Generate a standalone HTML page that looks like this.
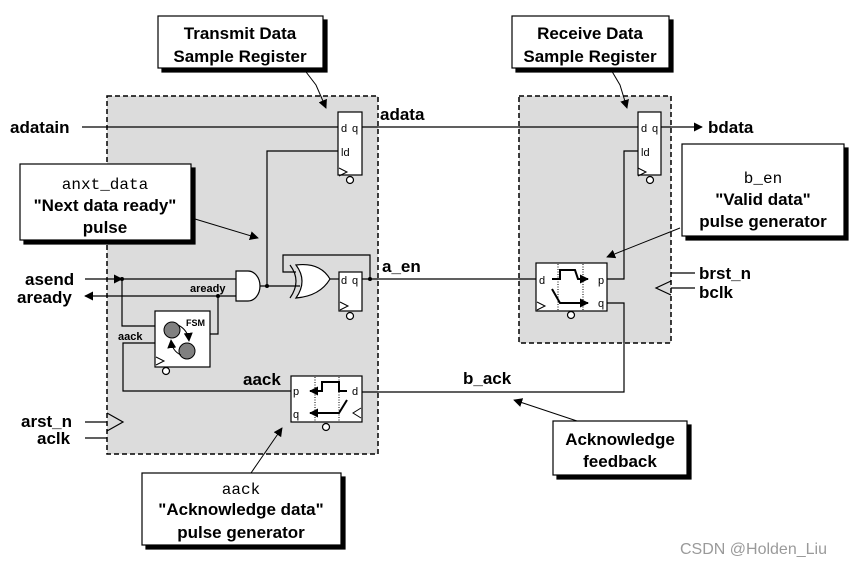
<!DOCTYPE html>
<html><head><meta charset="utf-8"><style>
html,body{margin:0;padding:0;background:#fff}
svg{display:block}
text{font-family:"Liberation Sans",Arial,sans-serif;font-weight:bold;fill:#000}
.m{font-family:"Liberation Mono",monospace;font-weight:normal}
.s{font-weight:normal;font-size:11px}
</style></head><body>
<svg width="867" height="567" viewBox="0 0 867 567" xmlns="http://www.w3.org/2000/svg">
<defs>
<marker id="ar" viewBox="0 0 10 10" refX="9" refY="5" markerWidth="9" markerHeight="9" orient="auto" markerUnits="userSpaceOnUse"><path d="M0,0 L10,5 L0,10z" fill="#000"/></marker>
</defs>
<rect x="107" y="96" width="271" height="358" fill="#dcdcdc" stroke="#000" stroke-width="1.5" stroke-dasharray="5,3"/>
<rect x="519" y="96" width="152" height="247" fill="#dcdcdc" stroke="#000" stroke-width="1.5" stroke-dasharray="5,3"/>

<g stroke="#000" stroke-width="1.2" fill="none">
<line x1="82" y1="127" x2="338" y2="127"/>
<line x1="362" y1="127" x2="638" y2="127"/>
<line x1="661" y1="127" x2="702" y2="127" marker-end="url(#ar)"/>
<polyline points="338,151 267,151 267,286"/>
<line x1="85" y1="279" x2="122" y2="279" marker-end="url(#ar)"/>
<line x1="122" y1="279" x2="236" y2="279"/>
<line x1="236" y1="296" x2="85" y2="296" marker-end="url(#ar)"/>
<polyline points="218,296 218,334 210,334"/>
<polyline points="122,279 122,326 155,326"/>
<polyline points="155,343 123,343 123,391 291,391"/>
<line x1="260" y1="286" x2="300" y2="286"/>
<line x1="330" y1="279" x2="339" y2="279"/>
<polyline points="370,279 370,255 283,255 283,272 296,272"/>
<line x1="362" y1="279" x2="536" y2="279"/>
<polyline points="607,279 624,279 624,151 638,151"/>
<polyline points="607,303 624,303 624,392 362,392"/>
<line x1="85" y1="422" x2="107" y2="422"/>
<line x1="85" y1="438" x2="107" y2="438"/>
<polyline points="107,413 123,422 107,431"/>
<line x1="671" y1="273" x2="695" y2="273"/>
<line x1="671" y1="288" x2="695" y2="288"/>
<polyline points="671,281 656,288 671,295"/>
</g>
<g fill="#000"><circle cx="122" cy="279" r="2"/><circle cx="218" cy="296" r="2"/><circle cx="267" cy="286" r="2"/><circle cx="370" cy="279" r="2"/></g>

<g stroke="#000" stroke-width="1.2" fill="#fff">
<rect x="338" y="112" width="24" height="63"/>
<circle cx="350" cy="180" r="3.5"/>
<rect x="638" y="112" width="23" height="63"/>
<circle cx="650" cy="180" r="3.5"/>
<rect x="339" y="272" width="23" height="39"/>
<circle cx="350" cy="316" r="3.5"/>
<rect x="155" y="311" width="55" height="56"/>
<circle cx="166" cy="371" r="3.5"/>
<rect x="536" y="263" width="71" height="48"/>
<circle cx="571" cy="315" r="3.5"/>
<rect x="291" y="376" width="71" height="46"/>
<circle cx="326" cy="427" r="3.5"/>
<path d="M236,271 L248,271 A12,15 0 0 1 248,301 L236,301 Z"/>
<path d="M296,265 Q320,262 330,279 Q320,296 296,298 Q308,281 296,265 Z"/>
</g>
<path d="M290,265 Q302,281 290,298" stroke="#000" stroke-width="1.2" fill="none"/>
<g stroke="#000" stroke-width="1" fill="none">
<polyline points="339,168 347,172 339,176"/><polyline points="638,168 646,172 638,176"/>
<polyline points="340,302 348,306 340,310"/><polyline points="156,357 164,361 156,365"/>
<polyline points="537,302 545,306 537,310"/><polyline points="361,408 353,413 361,418"/>
</g>
<circle cx="172" cy="330" r="8" fill="#808080" stroke="#000"/>
<circle cx="187" cy="351" r="8" fill="#808080" stroke="#000"/>
<path d="M178,325 Q188,330 189,341" stroke="#000" fill="none" marker-end="url(#ar)"/>
<path d="M181,355 Q172,351 171,340" stroke="#000" fill="none" marker-end="url(#ar)"/>
<g stroke="#000" fill="none">
<line x1="558" y1="264" x2="558" y2="310" stroke-dasharray="1,1.5"/>
<line x1="583" y1="264" x2="583" y2="310" stroke-dasharray="1,1.5"/>
<polyline points="552,279 560,279 560,270 575,270 578,279 588,279" stroke-width="2" marker-end="url(#ar)"/>
<polyline points="552,289 560,303 588,303" stroke-width="2" marker-end="url(#ar)"/>
<line x1="315" y1="377" x2="315" y2="421" stroke-dasharray="1,1.5"/>
<line x1="339" y1="377" x2="339" y2="421" stroke-dasharray="1,1.5"/>
<polyline points="347,391 339,391 339,382 322,382 322,391 310,391" stroke-width="2" marker-end="url(#ar)"/>
<polyline points="347,400 339,413 310,413" stroke-width="2" marker-end="url(#ar)"/>
</g>
<g class="s">
<text x="341" y="132" class="s">d</text><text x="352" y="132" class="s">q</text><text x="341" y="156" class="s">ld</text>
<text x="641" y="132" class="s">d</text><text x="652" y="132" class="s">q</text><text x="641" y="156" class="s">ld</text>
<text x="341" y="284" class="s">d</text><text x="352" y="284" class="s">q</text>
<text x="539" y="284" class="s">d</text><text x="598" y="284" class="s">p</text><text x="598" y="307" class="s">q</text>
<text x="293" y="395" class="s">p</text><text x="293" y="418" class="s">q</text><text x="352" y="395" class="s">d</text>
</g>
<text x="186" y="326" font-size="9">FSM</text>
<text x="190" y="292" font-size="11">aready</text>
<text x="118" y="340" font-size="11">aack</text>

<g font-size="17">
<text x="10" y="133">adatain</text>
<text x="380" y="120">adata</text>
<text x="708" y="133">bdata</text>
<text x="25" y="285">asend</text>
<text x="17" y="303">aready</text>
<text x="382" y="272">a_en</text>
<text x="699" y="279">brst_n</text>
<text x="699" y="298">bclk</text>
<text x="21" y="427">arst_n</text>
<text x="37" y="444">aclk</text>
<text x="243" y="385">aack</text>
<text x="463" y="384">b_ack</text>
</g>

<g stroke="#000" fill="none">
<polyline points="303,68 316,85 326,108" marker-end="url(#ar)"/>
<polyline points="610,68 620,85 627,108" marker-end="url(#ar)"/>
<line x1="195" y1="219" x2="258" y2="238" marker-end="url(#ar)"/>
<line x1="680" y1="228" x2="607" y2="257" marker-end="url(#ar)"/>
<line x1="577" y1="421" x2="514" y2="400" marker-end="url(#ar)"/>
<line x1="251" y1="473" x2="282" y2="428" marker-end="url(#ar)"/>
</g>

<g stroke="#000" stroke-width="1.2">
<rect x="162" y="20" width="165" height="52" fill="#000"/><rect x="158" y="16" width="165" height="52" fill="#fff"/>
<rect x="516" y="20" width="157" height="52" fill="#000"/><rect x="512" y="16" width="157" height="52" fill="#fff"/>
<rect x="24" y="168" width="171" height="76" fill="#000"/><rect x="20" y="164" width="171" height="76" fill="#fff"/>
<rect x="686" y="148" width="162" height="92" fill="#000"/><rect x="682" y="144" width="162" height="92" fill="#fff"/>
<rect x="557" y="425" width="134" height="54" fill="#000"/><rect x="553" y="421" width="134" height="54" fill="#fff"/>
<rect x="146" y="477" width="199" height="72" fill="#000"/><rect x="142" y="473" width="199" height="72" fill="#fff"/>
</g>
<g font-size="17" text-anchor="middle">
<text x="240" y="39">Transmit Data</text><text x="240" y="62">Sample Register</text>
<text x="590" y="39">Receive Data</text><text x="590" y="62">Sample Register</text>
<text x="105" y="189" class="m" font-size="16">anxt_data</text><text x="105" y="211">"Next data ready"</text><text x="105" y="233">pulse</text>
<text x="763" y="183" class="m" font-size="16">b_en</text><text x="763" y="205">"Valid data"</text><text x="763" y="227">pulse generator</text>
<text x="620" y="445">Acknowledge</text><text x="620" y="467">feedback</text>
<text x="241" y="494" class="m" font-size="16">aack</text><text x="241" y="515">"Acknowledge data"</text><text x="241" y="538">pulse generator</text>
</g>
<text x="680" y="554" font-size="16" style="font-weight:normal;fill:#9a9a9a">CSDN @Holden_Liu</text>
</svg>
</body></html>
